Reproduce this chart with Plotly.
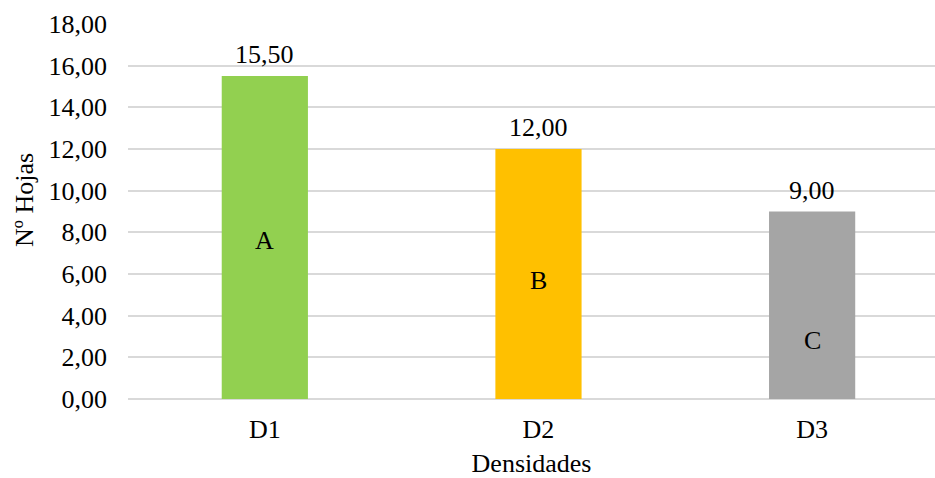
import plotly.graph_objects as go

# Data
densidades = ["D1", "D2", "D3"]
n_hojas = [15.50, 12.00, 9.00]
letras = ["A", "B", "C"]
colores = ["#92D050", "#FFC000", "#A5A5A5"]

# Vertical placement of the significance letters inside each bar
letra_y = [7.6, 5.7, 2.8]

FONT = "Liberation Serif, Times New Roman, serif"
FS = 26

def fmt(v):
    return f"{v:.2f}".replace(".", ",")

fig = go.Figure()
fig.add_trace(go.Bar(
    x=densidades,
    y=n_hojas,
    marker=dict(color=colores, line=dict(width=0)),
    width=0.315,
    hoverinfo="skip",
))

# Value labels above the bars
for d, v in zip(densidades, n_hojas):
    fig.add_annotation(x=d, y=v, text=fmt(v), showarrow=False,
                       yanchor="bottom", yshift=5,
                       font=dict(family=FONT, size=FS, color="#000000"))

# Significance letters inside the bars
for d, l, y in zip(densidades, letras, letra_y):
    fig.add_annotation(x=d, y=y, text=l, showarrow=False,
                       font=dict(family=FONT, size=FS, color="#000000"))

# Y-axis title
fig.add_annotation(xref="paper", yref="paper", x=-0.128, y=0.53,
                   text="Nº Hojas", textangle=-90, showarrow=False,
                   xanchor="center", yanchor="middle",
                   font=dict(family=FONT, size=FS, color="#000000"))

fig.update_layout(
    width=935, height=478,
    margin=dict(l=128, r=0, t=24, b=79),
    paper_bgcolor="white", plot_bgcolor="white",
    font=dict(family=FONT, size=FS, color="#000000"),
    showlegend=False,
    xaxis=dict(
        type="category",
        range=[-0.5, 2.449],
        showgrid=False, zeroline=False, showline=False,
        ticks="", ticklabelstandoff=12,
        tickfont=dict(family=FONT, size=FS),
        title=dict(text="Densidades", font=dict(family=FONT, size=FS), standoff=13),
    ),
    yaxis=dict(
        range=[0, 18],
        tickvals=list(range(0, 19, 2)),
        ticktext=[fmt(v) for v in range(0, 19, 2)],
        tickfont=dict(family=FONT, size=FS),
        showgrid=True, gridcolor="#D9D9D9", gridwidth=1.5,
        zeroline=True, zerolinecolor="#D9D9D9", zerolinewidth=1.5,
        showline=False, ticks="", ticklabelstandoff=20,
    ),
)

fig.write_html("out.html")
